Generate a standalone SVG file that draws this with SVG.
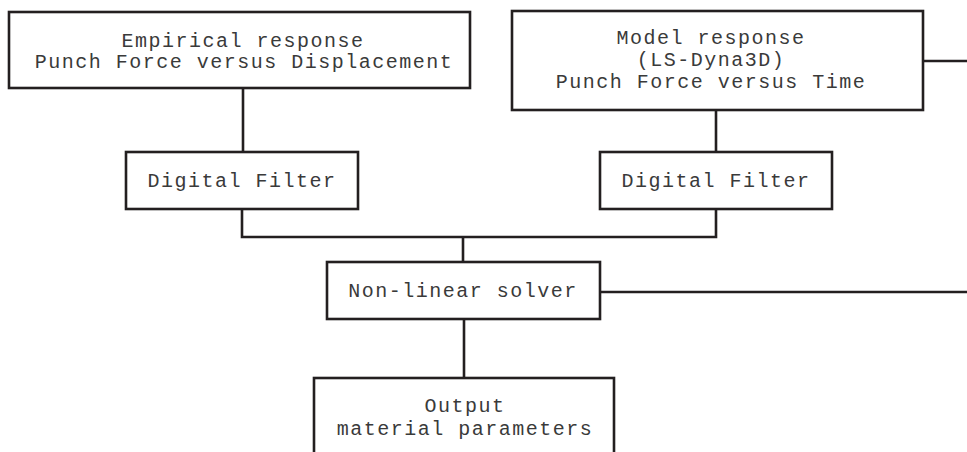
<svg xmlns="http://www.w3.org/2000/svg" width="967" height="452" viewBox="0 0 967 452">
<style>
.box{fill:#fff;stroke:#231f20;stroke-width:2.6}
.ln{fill:none;stroke:#231f20;stroke-width:2.6}
text{font-family:"Liberation Mono","Courier New",monospace;font-size:20px;letter-spacing:1.5px;fill:#3a3a3a;text-anchor:middle}
</style>
<rect width="967" height="452" fill="#fff"/>
<g id="connectors">
<path class="ln" d="M243 88V152"/>
<path class="ln" d="M716 110V152"/>
<path class="ln" d="M242 209V237H716V209"/>
<path class="ln" d="M463 237V262"/>
<path class="ln" d="M923 61H967"/>
<path class="ln" d="M600 292H967"/>
<path class="ln" d="M464 319V378"/>
</g>
<g id="empirical">
<rect class="box" x="9" y="12" width="461" height="76"/>
<text x="243" y="47">Empirical response</text>
<text x="244" y="68">Punch Force versus Displacement</text>
</g>
<g id="model">
<rect class="box" x="512" y="11" width="411" height="99"/>
<text x="711" y="44">Model response</text>
<text x="711" y="66">(LS-Dyna3D)</text>
<text x="711" y="88">Punch Force versus Time</text>
</g>
<g id="filter1">
<rect class="box" x="126" y="152" width="232" height="57"/>
<text x="242" y="187">Digital Filter</text>
</g>
<g id="filter2">
<rect class="box" x="600" y="152" width="232" height="57"/>
<text x="716" y="187">Digital Filter</text>
</g>
<g id="solver">
<rect class="box" x="327" y="262" width="273" height="57"/>
<text x="463" y="297">Non-linear solver</text>
</g>
<g id="output">
<rect class="box" x="314" y="378" width="300" height="90"/>
<text x="465" y="412">Output</text>
<text x="465" y="435">material parameters</text>
</g>
</svg>
